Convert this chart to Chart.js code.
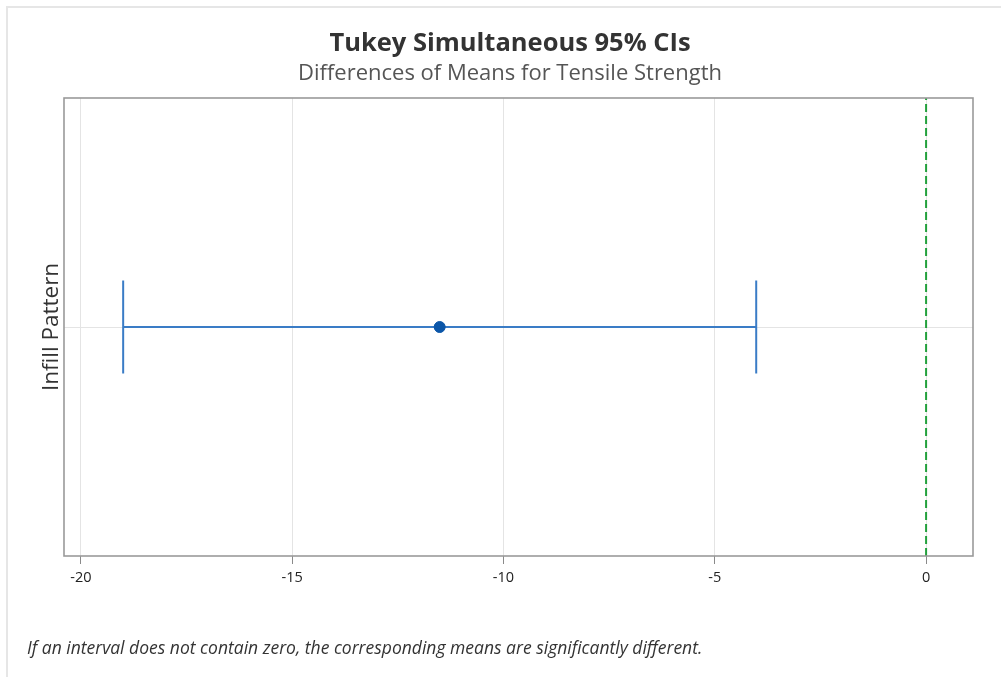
<!DOCTYPE html>
<html>
<head>
<meta charset="utf-8">
<script src="https://cdn.jsdelivr.net/npm/chart.js@4/dist/chart.umd.min.js"></script>
<style>
  html, body { margin: 0; padding: 0; background: #fff; }
  #wrap { position: relative; width: 1001px; height: 677px; overflow: hidden; font-family: "Open Sans", "Noto Sans", sans-serif; }
  #frame { position: absolute; left: 6px; top: 6px; width: 1100px; height: 800px;
           border-top: 2px solid #e6e6e6; border-left: 2px solid #e6e6e6; }
  #chart { position: absolute; left: 0; top: 0; }
  .hdr { position: absolute; left: 0; width: 1020px; text-align: center; white-space: nowrap; line-height: 1; }
  #title { top: 29px; font-size: 25.5px; font-weight: 700; color: #333; }
  #subtitle { top: 60px; font-size: 22px; color: #555; }
  #note { position: absolute; left: 27px; top: 637px; font-size: 17.5px; font-style: italic; color: #333; white-space: nowrap; line-height: 1.2; }
</style>
</head>
<body>
<div id="wrap">
  <div id="frame"></div>
  <canvas id="chart" width="1001" height="677"></canvas>
  <div class="hdr" id="title">Tukey Simultaneous 95% CIs</div>
  <div class="hdr" id="subtitle">Differences of Means for Tensile Strength</div>
  <div id="note">If an interval does not contain zero, the corresponding means are significantly different.</div>
</div>
<script>
// Tukey comparison: one pairwise difference of means with its simultaneous CI
const comparisons = ['Infill Pattern'];
const lowerCI  = [-19.00];
const meanDiff = [-11.51];
const upperCI  = [-4.02];
const xTicks   = [-20, -15, -10, -5, 0];
const zeroRef  = [0];

const BLUE = '#3a7cc6';
const DOT = '#0b56a8';
const GREEN = '#22a03c';

// Frame around the plot area
const plotFrame = {
  id: 'plotFrame',
  afterDatasetsDraw(chart) {
    const { ctx, chartArea: a } = chart;
    ctx.save();
    ctx.strokeStyle = '#9a9a9a';
    ctx.lineWidth = 1.6;
    ctx.strokeRect(a.left, a.top, a.right - a.left, a.bottom - a.top);
    ctx.restore();
  }
};

const i = 0;
new Chart(document.getElementById('chart'), {
  type: 'scatter',
  data: {
    datasets: [
      {
        // reference line at zero difference
        data: [{ x: zeroRef[0], y: -1 }, { x: zeroRef[0], y: 1 }],
        showLine: true, borderColor: GREEN, borderWidth: 2, borderDash: [8, 4],
        pointRadius: 0, order: 3
      },
      {
        // confidence interval with end caps
        label: comparisons[i],
        data: [{ x: lowerCI[i], y: 0 }, { x: upperCI[i], y: 0 }],
        showLine: true, borderColor: BLUE, borderWidth: 2,
        pointStyle: 'line', pointRotation: 90, pointRadius: 46.5,
        pointBorderColor: BLUE, pointBorderWidth: 2, pointHoverRadius: 46.5,
        order: 2
      },
      {
        // estimated difference of means
        data: [{ x: meanDiff[i], y: 0 }],
        pointStyle: 'circle', pointRadius: 5.5, pointHoverRadius: 5.5,
        pointBackgroundColor: DOT, pointBorderColor: DOT, pointBorderWidth: 1,
        order: 1
      }
    ]
  },
  options: {
    responsive: false,
    animation: false,
    events: [],
    layout: { autoPadding: false, padding: { left: 34, right: 28, top: 98, bottom: 0 } },
    plugins: { legend: { display: false }, tooltip: { enabled: false } },
    scales: {
      x: {
        type: 'linear', min: -20.4, max: 1.11,
        afterBuildTicks: s => { s.ticks = xTicks.map(v => ({ value: v })); },
        afterFit: s => { s.height = 121; },
        grid: { color: '#e4e4e4', lineWidth: 1, tickColor: '#8a8a8a', tickLength: 8, drawTicks: true },
        border: { display: false },
        ticks: { color: '#222', font: { family: 'Open Sans', size: 14.5 }, padding: 5, maxRotation: 0 }
      },
      y: {
        type: 'linear', min: -1, max: 1,
        afterBuildTicks: s => { s.ticks = [{ value: 0 }]; },
        afterFit: s => { s.width = 30; },
        grid: { color: '#e4e4e4', lineWidth: 1, drawTicks: false },
        border: { display: false },
        ticks: { display: false },
        title: { display: true, text: 'Infill Pattern', color: '#333',
                 font: { family: 'Open Sans', size: 22.5 }, padding: { top: 4, bottom: 4 } }
      }
    }
  },
  plugins: [plotFrame]
});
</script>
</body>
</html>
